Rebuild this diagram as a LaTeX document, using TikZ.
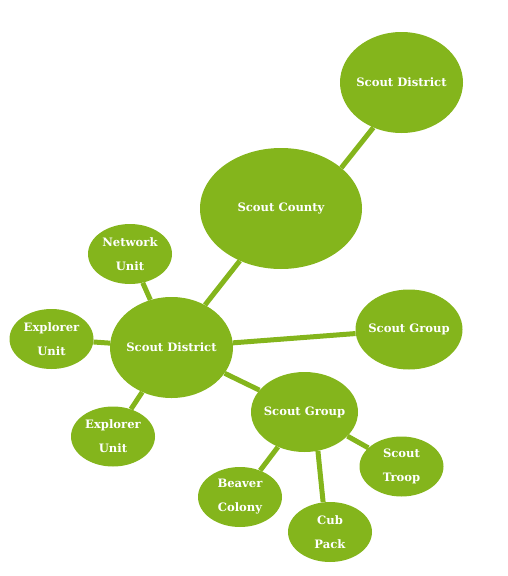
\documentclass[tikz,border=0pt]{standalone}
\usepackage{fontspec}
\usepackage{xcolor}
\usepackage{tikz}
\usetikzlibrary{shapes.geometric}
\newfontfamily\slabfont{DejaVu Serif}
\definecolor{scoutgreen}{RGB}{132,181,28}

\begin{document}
\begin{tikzpicture}[
  x=1pt,y=-1pt,
  bubble/.style={ellipse,fill=scoutgreen,text=white,align=center,
    inner xsep=-12pt,inner ysep=0pt,
    font=\slabfont\bfseries\fontsize{11.6}{24}\selectfont},
  county bubble/.style={bubble,minimum width=162pt,minimum height=121pt},
  district bubble/.style={bubble,minimum width=123pt,minimum height=101pt},
  group bubble/.style={bubble,minimum width=107pt,minimum height=80pt},
  unit bubble/.style={bubble,minimum width=84pt,minimum height=60pt},
  link/.style={draw=scoutgreen,line width=5pt}
]
\useasboundingbox (0,0) rectangle (508,576);

% upper branch
\node[district bubble] (top-district) at (401.5,82.5) {Scout District};
\node[county bubble] (county) at (281,208.5) {Scout County};

% district and its units
\node[district bubble] (district) at (171.5,347.5) {Scout District};
\node[unit bubble] (network) at (130,254) {Network\\Unit};
\node[unit bubble] (explorer-left) at (51.5,339) {Explorer\\Unit};
\node[unit bubble] (explorer-low) at (113,436.5) {Explorer\\Unit};
\node[group bubble] (group-right) at (409,329.5) {Scout Group};

% group and its sections
\node[group bubble] (group) at (304.5,412) {Scout Group};
\node[unit bubble] (troop) at (401.5,466.5) {Scout\\Troop};
\node[unit bubble] (beaver) at (240,497) {Beaver\\Colony};
\node[unit bubble] (cub) at (330,532) {Cub\\Pack};

\draw[link] (county.34) -- (top-district.238);
\draw[link] (district) -- (county);
\draw[link] (district) -- (network);
\draw[link] (district) -- (explorer-left);
\draw[link] (district) -- (explorer-low);
\draw[link] (district) -- (group-right);
\draw[link] (district) -- (group);
\draw[link] (group) -- (troop);
\draw[link] (group) -- (beaver);
\draw[link] (group.289) -- (cub.103);

\end{tikzpicture}
\end{document}
